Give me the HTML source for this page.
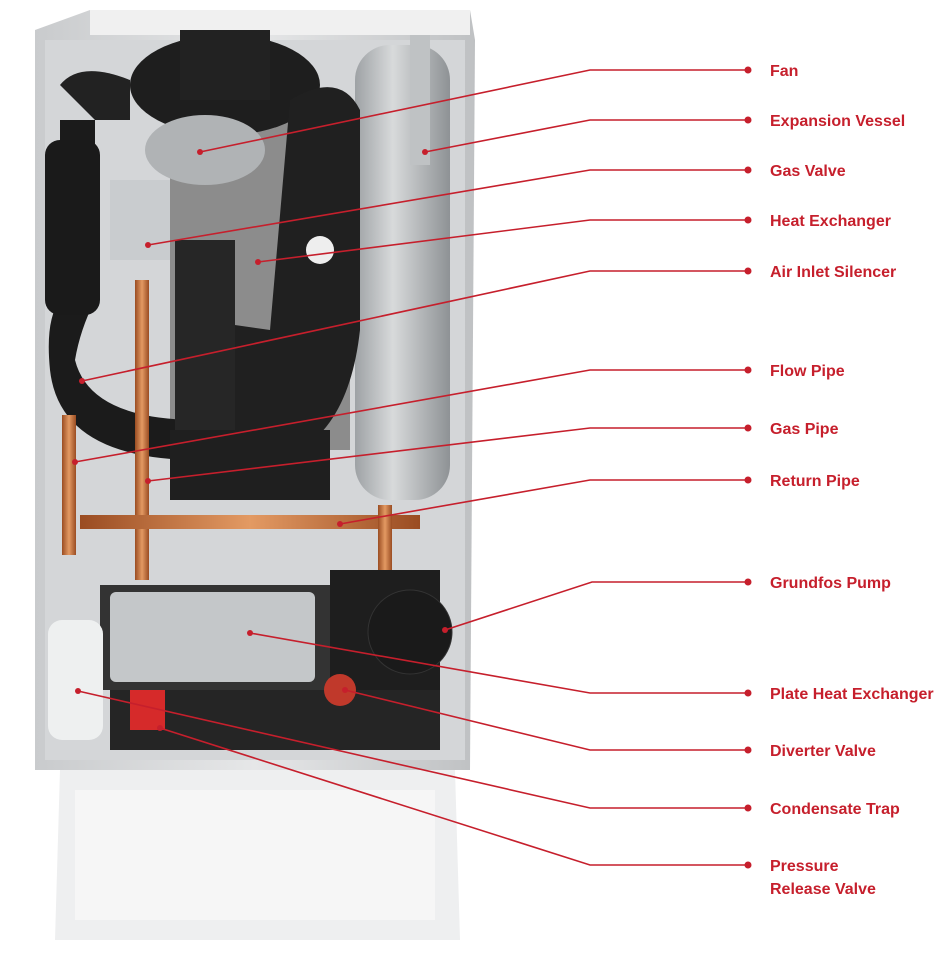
<!DOCTYPE html>
<html><head><meta charset="utf-8"><style>
html,body{margin:0;padding:0;background:#fff;}
svg{display:block}
text{font-family:"Liberation Sans",sans-serif;font-size:16px;font-weight:bold;fill:#c61f2c}
</style></head><body>
<svg width="952" height="954" viewBox="0 0 952 954">
<defs>
<linearGradient id="cas" x1="0" x2="1"><stop offset="0" stop-color="#c9cbcd"/><stop offset="0.5" stop-color="#e6e7e8"/><stop offset="1" stop-color="#bfc1c3"/></linearGradient>
<linearGradient id="ves" x1="0" x2="1"><stop offset="0" stop-color="#9ea2a5"/><stop offset="0.4" stop-color="#d8dadb"/><stop offset="1" stop-color="#8e9295"/></linearGradient>
<linearGradient id="cu" x1="0" x2="1"><stop offset="0" stop-color="#9a4c22"/><stop offset="0.5" stop-color="#e39a63"/><stop offset="1" stop-color="#9a4c22"/></linearGradient>
</defs>
<!-- casing -->
<polygon points="35,30 90,10 470,10 475,40 470,770 35,770" fill="url(#cas)"/>
<rect x="90" y="10" width="380" height="25" fill="#f0f0f0"/>
<rect x="45" y="40" width="420" height="720" fill="#d4d6d8"/>
<!-- expansion vessel -->
<rect x="355" y="45" width="95" height="455" rx="35" fill="url(#ves)"/>
<rect x="410" y="35" width="20" height="130" fill="#bfc2c4"/>
<!-- heat exchanger panel -->
<rect x="170" y="120" width="180" height="330" fill="#8c8c8c"/>
<!-- fan -->
<ellipse cx="225" cy="85" rx="95" ry="50" fill="#1e1e1e"/>
<rect x="180" y="30" width="90" height="70" fill="#222"/>
<ellipse cx="205" cy="150" rx="60" ry="35" fill="#b0b3b5"/>
<!-- gas valve -->
<rect x="110" y="180" width="60" height="80" fill="#c9cccf"/>
<!-- air silencer -->
<path d="M60,120 L95,120 L95,300 Q80,330 75,360 Q90,420 200,420 L200,460 Q60,460 50,370 Q45,320 60,300 Z" fill="#1b1b1b"/>
<rect x="45" y="140" width="55" height="175" rx="15" fill="#1a1a1a"/>
<path d="M60,85 Q80,60 130,80 L130,120 L95,120 Z" fill="#222"/>
<!-- big duct -->
<path d="M290,100 Q340,70 360,110 L360,330 Q350,420 300,450 L200,450 L200,320 L270,330 Z" fill="#202020"/>
<rect x="175" y="240" width="60" height="200" fill="#262626"/>
<path d="M170,430 L330,430 L330,500 L170,500 Z" fill="#1f1f1f"/>
<circle cx="320" cy="250" r="14" fill="#eee"/>
<!-- copper pipes -->
<rect x="135" y="280" width="14" height="300" fill="url(#cu)"/>
<rect x="62" y="415" width="14" height="140" fill="url(#cu)"/>
<rect x="80" y="515" width="340" height="14" fill="url(#cu)"/>
<rect x="378" y="505" width="14" height="90" fill="url(#cu)"/>
<rect x="230" y="660" width="14" height="70" fill="url(#cu)"/>
<!-- plate HE -->
<rect x="100" y="585" width="235" height="105" fill="#333"/>
<rect x="110" y="592" width="205" height="90" rx="6" fill="#c4c7c9"/>
<!-- pump -->
<rect x="330" y="570" width="110" height="120" fill="#1e1e1e"/>
<circle cx="410" cy="632" r="42" fill="#1a1a1a" stroke="#333"/>
<!-- bottom parts -->
<rect x="110" y="690" width="330" height="60" fill="#252525"/>
<circle cx="340" cy="690" r="16" fill="#c0392b"/>
<rect x="130" y="690" width="35" height="40" fill="#d62a2a"/>
<rect x="48" y="620" width="55" height="120" rx="14" fill="#eef0f0"/>
<!-- base tray -->
<path d="M60,770 L455,770 L460,940 L55,940 Z" fill="#eeeff0"/>
<rect x="75" y="790" width="360" height="130" fill="#f6f6f6"/>
<!-- leader lines -->
<g stroke="#c61f2c" stroke-width="1.6" fill="none">
<polyline points="200,152 590,70 748,70"/>
<polyline points="425,152 590,120 748,120"/>
<polyline points="148,245 590,170 748,170"/>
<polyline points="258,262 590,220 748,220"/>
<polyline points="82,381 590,271 748,271"/>
<polyline points="75,462 590,370 748,370"/>
<polyline points="148,481 590,428 748,428"/>
<polyline points="340,524 590,480 748,480"/>
<polyline points="445,630 592,582 748,582"/>
<polyline points="250,633 590,693 748,693"/>
<polyline points="345,690 590,750 748,750"/>
<polyline points="78,691 590,808 748,808"/>
<polyline points="160,728 590,865 748,865"/>
</g>
<g fill="#c61f2c">
<circle cx="748" cy="70" r="3.5"/><circle cx="748" cy="120" r="3.5"/><circle cx="748" cy="170" r="3.5"/>
<circle cx="748" cy="220" r="3.5"/><circle cx="748" cy="271" r="3.5"/><circle cx="748" cy="370" r="3.5"/>
<circle cx="748" cy="428" r="3.5"/><circle cx="748" cy="480" r="3.5"/><circle cx="748" cy="582" r="3.5"/>
<circle cx="748" cy="693" r="3.5"/><circle cx="748" cy="750" r="3.5"/><circle cx="748" cy="808" r="3.5"/>
<circle cx="748" cy="865" r="3.5"/>
<circle cx="200" cy="152" r="3"/><circle cx="425" cy="152" r="3"/><circle cx="148" cy="245" r="3"/>
<circle cx="258" cy="262" r="3"/><circle cx="82" cy="381" r="3"/><circle cx="75" cy="462" r="3"/>
<circle cx="148" cy="481" r="3"/><circle cx="340" cy="524" r="3"/><circle cx="445" cy="630" r="3"/>
<circle cx="250" cy="633" r="3"/><circle cx="345" cy="690" r="3"/><circle cx="78" cy="691" r="3"/>
<circle cx="160" cy="728" r="3"/>
</g>
<text x="770" y="76">Fan</text>
<text x="770" y="126">Expansion Vessel</text>
<text x="770" y="176">Gas Valve</text>
<text x="770" y="226">Heat Exchanger</text>
<text x="770" y="277">Air Inlet Silencer</text>
<text x="770" y="376">Flow Pipe</text>
<text x="770" y="434">Gas Pipe</text>
<text x="770" y="486">Return Pipe</text>
<text x="770" y="588">Grundfos Pump</text>
<text x="770" y="699">Plate Heat Exchanger</text>
<text x="770" y="756">Diverter Valve</text>
<text x="770" y="814">Condensate Trap</text>
<text x="770" y="871">Pressure</text>
<text x="770" y="894">Release Valve</text>
</svg>
</body></html>
